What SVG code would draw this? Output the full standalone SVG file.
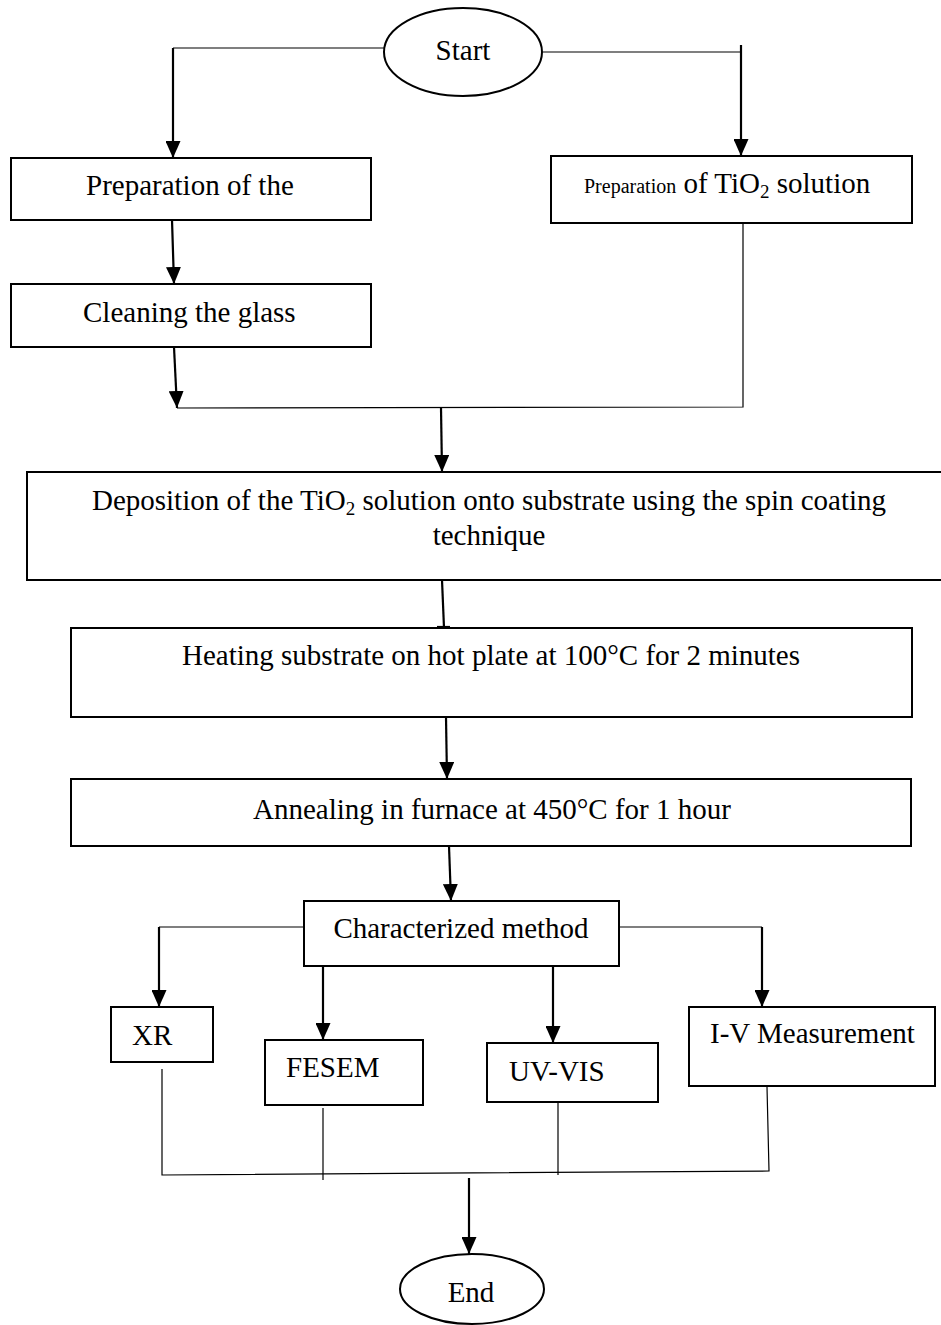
<svg xmlns="http://www.w3.org/2000/svg" width="941" height="1325" viewBox="0 0 941 1325">
<style>
.box{fill:#fff;stroke:#000;stroke-width:2}
.t{font-family:"Liberation Serif","Times New Roman",serif;font-size:29px;fill:#000}
.c{fill:none;stroke:#000;stroke-width:2.2}
.thin{fill:none;stroke:#000;stroke-width:1.2}
</style>
<defs>
<marker id="a" markerUnits="userSpaceOnUse" markerWidth="17" markerHeight="15" refX="17" refY="7.5" orient="auto" viewBox="0 0 17 15">
<path d="M0,0 L17,7.5 L0,15 Z" fill="#000"/>
</marker>
</defs>
<rect width="941" height="1325" fill="#fff"/>
<g id="connectors">
<polyline class="thin" points="385,48 173,48"/>
<line class="c" x1="173" y1="48" x2="173" y2="158" marker-end="url(#a)"/>
<polyline class="thin" points="543,52 741,52"/>
<line class="c" x1="741" y1="45" x2="741" y2="156" marker-end="url(#a)"/>
<line class="c" x1="172" y1="220" x2="174" y2="284" marker-end="url(#a)"/>
<line class="c" x1="174" y1="347" x2="177" y2="408" marker-end="url(#a)"/>
<polyline class="thin" points="177,408 743,407 743,223"/>
<line class="c" x1="441" y1="408" x2="442" y2="472" marker-end="url(#a)"/>
<line class="c" x1="442" y1="580" x2="444" y2="628"/>
<line class="c" x1="437" y1="627" x2="450" y2="627"/>
<line class="c" x1="446" y1="717" x2="447" y2="779" marker-end="url(#a)"/>
<line class="c" x1="449" y1="846" x2="451" y2="901" marker-end="url(#a)"/>
<polyline class="thin" points="304,927 159,927"/>
<line class="c" x1="159" y1="927" x2="159" y2="1007" marker-end="url(#a)"/>
<polyline class="thin" points="619,927 762,927"/>
<line class="c" x1="762" y1="927" x2="762" y2="1007" marker-end="url(#a)"/>
<line class="c" x1="323" y1="966" x2="323" y2="1040" marker-end="url(#a)"/>
<line class="c" x1="553" y1="966" x2="553" y2="1043" marker-end="url(#a)"/>
<polyline class="thin" points="162,1069 162,1175 769,1171 767,1087"/>
<line class="thin" x1="323" y1="1108" x2="323" y2="1180"/>
<line class="thin" x1="558" y1="1103" x2="558" y2="1175"/>
<line class="c" x1="469" y1="1178" x2="469" y2="1254" marker-end="url(#a)"/>
</g>
<g id="start">
<ellipse class="box" cx="463" cy="52" rx="79" ry="44"/>
<text class="t" x="463" y="60" text-anchor="middle">Start</text>
</g>
<g id="prep-substrate">
<rect class="box" x="11" y="158" width="360" height="62"/>
<text class="t" x="86" y="195">Preparation of the</text>
</g>
<g id="prep-tio2">
<rect class="box" x="551" y="156" width="361" height="67"/>
<text class="t" x="584" y="193"><tspan font-size="20">Preparation</tspan> of TiO<tspan font-size="19" dy="5">2</tspan><tspan dy="-5"> solution</tspan></text>
</g>
<g id="cleaning">
<rect class="box" x="11" y="284" width="360" height="63"/>
<text class="t" x="83" y="322">Cleaning the glass</text>
</g>
<g id="deposition">
<rect class="box" x="27" y="472" width="924" height="108"/>
<text class="t" x="489" y="510" text-anchor="middle">Deposition of the TiO<tspan font-size="19" dy="5">2</tspan><tspan dy="-5"> solution onto substrate using the spin coating</tspan></text>
<text class="t" x="489" y="545" text-anchor="middle">technique</text>
</g>
<g id="heating">
<rect class="box" x="71" y="628" width="841" height="89"/>
<text class="t" x="491" y="665" text-anchor="middle">Heating substrate on hot plate at 100°C for 2 minutes</text>
</g>
<g id="annealing">
<rect class="box" x="71" y="779" width="840" height="67"/>
<text class="t" x="492" y="819" text-anchor="middle">Annealing in furnace at 450°C for 1 hour</text>
</g>
<g id="characterized">
<rect class="box" x="304" y="901" width="315" height="65"/>
<text class="t" x="461" y="938" text-anchor="middle">Characterized method</text>
</g>
<g id="xr">
<rect class="box" x="111" y="1007" width="102" height="55"/>
<text class="t" x="132" y="1045">XR</text>
</g>
<g id="fesem">
<rect class="box" x="265" y="1040" width="158" height="65"/>
<text class="t" x="286" y="1077">FESEM</text>
</g>
<g id="uvvis">
<rect class="box" x="487" y="1043" width="171" height="59"/>
<text class="t" x="509" y="1081">UV-VIS</text>
</g>
<g id="iv">
<rect class="box" x="689" y="1007" width="246" height="79"/>
<text class="t" x="710" y="1043" font-size="26">I-V Measurement</text>
</g>
<g id="end">
<ellipse class="box" cx="472" cy="1289" rx="72" ry="35"/>
<text class="t" x="471" y="1302" text-anchor="middle">End</text>
</g>
</svg>
